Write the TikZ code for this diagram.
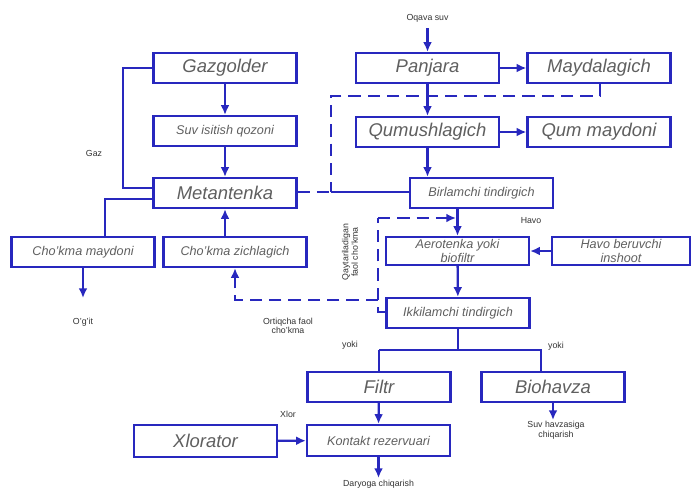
\documentclass[tikz,border=0pt]{standalone}
\usepackage{fontspec}
\setmainfont{Liberation Sans}
\usetikzlibrary{arrows.meta}
\definecolor{schblue}{RGB}{40,40,190}
\definecolor{schtext}{RGB}{95,95,95}
\tikzset{
	bigbox/.style={draw=schblue, line width=1.3pt, minimum width=2.86cm, minimum height=0.6cm, inner sep=1pt, text=schtext, font=\itshape\fontsize{10.5}{11}\selectfont},
	smallbox/.style={bigbox, align=center, font=\itshape\fontsize{7.2}{7.8}\selectfont},
	flow/.style={schblue, line width=1.3pt, -{Latex[length=5.5pt,width=5pt]}},
	pipe/.style={schblue, line width=1.3pt},
	sludge/.style={pipe, dash pattern=on 7pt off 4pt},
	sludgeflow/.style={flow, dash pattern=on 7pt off 4pt},
	lbl/.style={font=\fontsize{5}{5.5}\selectfont, text=black!80, align=center}
}

\begin{document}
\begin{tikzpicture}[x=0.02cm, y=-0.02cm]
			%%%%% START %%%%%
			\useasboundingbox (0, 0) rectangle (692, 488);
			
			% left branch: gas and sludge
			\node[bigbox] (gaz) at (225, 68) {Gazgolder};
			\node[smallbox] (suv) at (225, 131) {Suv isitish qozoni};
			\node[bigbox] (met) at (225, 193) {Metantenka};
			\node[smallbox] (chm) at (83, 252) {Cho'kma maydoni};
			\node[smallbox] (chz) at (235, 252) {Cho'kma zichlagich};
			
			% main water line
			\node[bigbox] (panj) at (427.5, 68) {Panjara};
			\node[bigbox] (mayd) at (599, 68) {Maydalagich};
			\node[bigbox] (qumu) at (427.5, 132) {Qumushlagich};
			\node[bigbox] (qumm) at (599, 132) {Qum maydoni};
			\node[smallbox] (birl) at (481.5, 193) {Birlamchi tindirgich};
			\node[smallbox, minimum height=0.56cm] (aero) at (457.5, 251) {Aerotenka yoki\\biofiltr};
			\node[smallbox, minimum width=2.76cm, minimum height=0.56cm] (havo) at (621, 251) {Havo beruvchi\\inshoot};
			\node[smallbox] (ikki) at (458, 313) {Ikkilamchi tindirgich};
			\node[bigbox] (filtr) at (379, 387) {Filtr};
			\node[bigbox] (bioh) at (553, 387) {Biohavza};
			\node[bigbox, minimum height=0.64cm] (xlor) at (205.5, 441) {Xlorator};
			\node[smallbox, minimum height=0.62cm] (kont) at (378.5, 440.5) {Kontakt rezervuari};
			
			% free ends
			\coordinate (inflow) at (427.5, 28);
			\coordinate (ugit) at (83, 298);
			\coordinate (biout) at (553, 420);
			\coordinate (kout) at (378.5, 478);
			\coordinate (split) at (458, 350);
			
			% labels
			\node[lbl] (oqlbl) at (427.5, 18) {Oqava suv};
			\node[lbl] (gazlbl) at (94, 153) {Gaz};
			\node[lbl] (uglbl) at (83, 322) {O'g'it};
			\node[lbl] (ortlbl) at (288, 326) {Ortiqcha faol\\cho'kma};
			\node[lbl, rotate=90] (qaylbl) at (350, 252) {Qaytariladigan\\faol cho'kma};
			\node[lbl] (havlbl) at (531, 221) {Havo};
			\node[lbl] (yok1) at (350, 345) {yoki};
			\node[lbl] (yok2) at (556, 346) {yoki};
			\node[lbl] (xllbl) at (288, 414) {Xlor};
			\node[lbl] (suvlbl) at (556, 430) {Suv havzasiga\\chiqarish};
			\node[lbl] (dalbl) at (378.5, 484) {Daryoga chiqarish};
			
			% water flow
			\draw[flow] (inflow) -- (panj);
			\draw[flow] (panj) -- (mayd);
			\draw[flow] (panj) -- (qumu);
			\draw[flow] (qumu) -- (qumm);
			\draw[flow] (qumu.south) -- (qumu.south |- birl.north);
			\draw[flow] (aero.north |- birl.south) -- (aero.north);
			\draw[flow] (havo) -- (aero);
			\draw[flow] (aero) -- (ikki);
			\draw[pipe] (ikki.south) -- (split);
			\draw[pipe] (filtr.north |- split) -- (split) -- ([xshift=-0.24cm]bioh.north |- split) -- ([xshift=-0.24cm]bioh.north);
			\draw[pipe] (filtr.north |- split) -- (filtr.north);
			\draw[flow] (filtr) -- (kont.north);
			\draw[flow] (bioh.south) -- (biout);
			\draw[flow] (xlor) -- (kont);
			\draw[flow] (kont.south) -- (kout);
			
			% gas and sludge treatment
			\draw[flow] (gaz) -- (suv);
			\draw[flow] (suv) -- (met);
			\draw[pipe] (gaz.west) -- (123, 68) -- (123, 188) -- (met.west |- 0, 188);
			\draw[pipe] (met.west |- 0, 199) -- (105, 199) -- (105, 237);
			\draw[flow] (met.south |- chz.north) -- (met.south);
			\draw[flow] (chm.south) -- (ugit);
			
			% sludge lines
			\draw[sludge] ([xshift=0.02cm]mayd.south) -- (600, 96) -- (331, 96) -- (331, 192);
			\draw[sludge] (met.east |- 0, 192) -- (331, 192);
			\draw[pipe] (331, 192) -- (birl.west |- 0, 192);
			\draw[sludge] (ikki.west |- 0, 312) -- (378, 312) -- (378, 218);
			\draw[sludgeflow] (378, 218) -- (456, 218);
			\draw[sludgeflow] (378, 300) -- (235, 300) -- (chz.south);
			
			%%%%% END %%%%%
\end{tikzpicture}
\end{document}
